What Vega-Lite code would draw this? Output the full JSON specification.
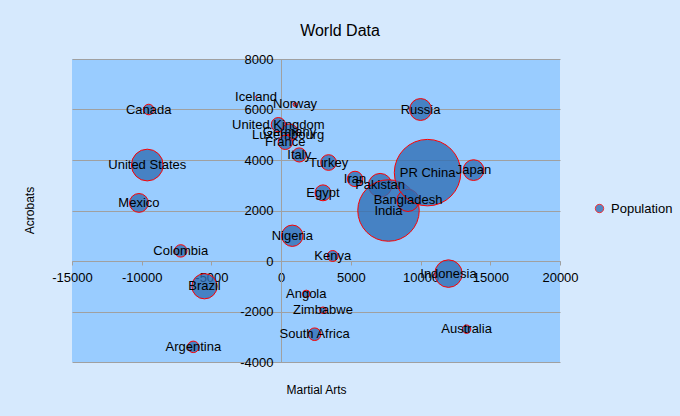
{
  "$schema": "https://vega.github.io/schema/vega-lite/v6.json",
  "width": 488,
  "height": 303,
  "autosize": {"type": "none"},
  "padding": {"left": 72, "top": 59, "right": 120, "bottom": 54},
  "background": "#D6E9FD",
  "title": {"text": "World Data", "fontSize": 16, "font": "Liberation Sans", "fontWeight": "normal", "color": "#000000", "dx": 24, "offset": 14},
  "config": {
    "view": {"fill": "#99CCFF", "stroke": null},
    "font": "Liberation Sans"
  },
  "data": {
    "values": [
      {"country": "Canada", "martial": -9500, "acrobats": 6000, "pop": 33},
      {"country": "Iceland", "martial": -1800, "acrobats": 6500, "pop": 0.3},
      {"country": "Norway", "martial": 1000, "acrobats": 6200, "pop": 4.6},
      {"country": "United Kingdom", "martial": -200, "acrobats": 5400, "pop": 60},
      {"country": "Germany", "martial": 600, "acrobats": 5100, "pop": 82},
      {"country": "Luxembourg", "martial": 500, "acrobats": 5000, "pop": 0.5},
      {"country": "France", "martial": 300, "acrobats": 4700, "pop": 61},
      {"country": "Italy", "martial": 1300, "acrobats": 4200, "pop": 59},
      {"country": "Turkey", "martial": 3400, "acrobats": 3900, "pop": 73},
      {"country": "Egypt", "martial": 3000, "acrobats": 2700, "pop": 75},
      {"country": "Iran", "martial": 5300, "acrobats": 3250, "pop": 70},
      {"country": "Pakistan", "martial": 7100, "acrobats": 3000, "pop": 166},
      {"country": "India", "martial": 7700, "acrobats": 2000, "pop": 1122},
      {"country": "Bangladesh", "martial": 9100, "acrobats": 2400, "pop": 146},
      {"country": "PR China", "martial": 10500, "acrobats": 3500, "pop": 1311},
      {"country": "Japan", "martial": 13800, "acrobats": 3600, "pop": 128},
      {"country": "Russia", "martial": 10000, "acrobats": 6000, "pop": 142},
      {"country": "United States", "martial": -9600, "acrobats": 3800, "pop": 299},
      {"country": "Mexico", "martial": -10200, "acrobats": 2300, "pop": 105},
      {"country": "Colombia", "martial": -7200, "acrobats": 400, "pop": 46},
      {"country": "Brazil", "martial": -5500, "acrobats": -1000, "pop": 189},
      {"country": "Argentina", "martial": -6300, "acrobats": -3400, "pop": 39},
      {"country": "Nigeria", "martial": 800, "acrobats": 1000, "pop": 135},
      {"country": "Kenya", "martial": 3700, "acrobats": 200, "pop": 35},
      {"country": "Angola", "martial": 1800, "acrobats": -1300, "pop": 16},
      {"country": "Zimbabwe", "martial": 3000, "acrobats": -1950, "pop": 13},
      {"country": "South Africa", "martial": 2400, "acrobats": -2900, "pop": 47},
      {"country": "Australia", "martial": 13300, "acrobats": -2700, "pop": 21},
      {"country": "Indonesia", "martial": 12000, "acrobats": -500, "pop": 225}
    ]
  },
  "encoding": {
    "x": {
      "field": "martial", "type": "quantitative",
      "scale": {"domain": [-15000, 20000], "nice": false, "zero": false},
      "axis": {
        "title": "Martial Arts", "values": [-15000, -10000, -5000, 0, 5000, 10000, 15000, 20000],
        "labelExpr": "'' + datum.value",
        "grid": false, "offset": -101, "domainColor": "#A0A0A0", "tickColor": "#A0A0A0", "tickSize": 4,
        "labelFontSize": 13, "labelColor": "#000000", "labelPadding": 6, "labelFlush": false, "labelOverlap": false,
        "labelFont": "Liberation Sans", "titleFont": "Liberation Sans", "titleFontSize": 12, "titleFontWeight": "normal",
        "titleColor": "#000000", "titleX": 244, "titleY": 128, "titleBaseline": "middle", "titleAlign": "center"
      }
    },
    "y": {
      "field": "acrobats", "type": "quantitative",
      "scale": {"domain": [-4000, 8000], "nice": false, "zero": false},
      "axis": {
        "title": "Acrobats", "values": [-4000, -2000, 0, 2000, 4000, 6000, 8000],
        "labelExpr": "'' + datum.value",
        "grid": true, "gridColor": "#A0A0A0", "gridWidth": 1, "offset": -209, "domainColor": "#A0A0A0", "tickColor": "#A0A0A0", "tickSize": 4,
        "labelFontSize": 13, "labelColor": "#000000", "labelPadding": 4, "labelOverlap": false, "labelFlush": false,
        "labelFont": "Liberation Sans", "titleFont": "Liberation Sans", "titleFontSize": 12, "titleFontWeight": "normal",
        "titleColor": "#000000", "titleX": -252, "titleY": 151, "titleAngle": -90, "titleBaseline": "middle", "titleAlign": "center"
      }
    }
  },
  "layer": [
    {
      "mark": {"type": "point", "filled": true, "stroke": "#FF0000", "strokeWidth": 1, "opacity": 1, "fillOpacity": 0.78, "strokeOpacity": 1},
      "encoding": {
        "size": {"field": "pop", "type": "quantitative", "scale": {"domain": [0, 1311], "range": [0, 4418]}, "legend": null},
        "color": {
          "datum": "Population",
          "scale": {"range": ["#2E6DB4"]},
          "legend": {
            "orient": "none", "legendX": 521, "legendY": 143, "title": null, "padding": 0,
            "labelFontSize": 13, "labelColor": "#000000", "labelFont": "Liberation Sans", "labelOffset": 5,
            "symbolType": "circle", "symbolSize": 70, "symbolStrokeColor": "#FF0000", "symbolStrokeWidth": 1, "symbolOpacity": 0.78
          }
        }
      }
    },
    {
      "mark": {"type": "text", "fontSize": 13, "font": "Liberation Sans", "fill": "#000000", "align": "center", "baseline": "middle"},
      "encoding": {"text": {"field": "country"}}
    }
  ]
}
